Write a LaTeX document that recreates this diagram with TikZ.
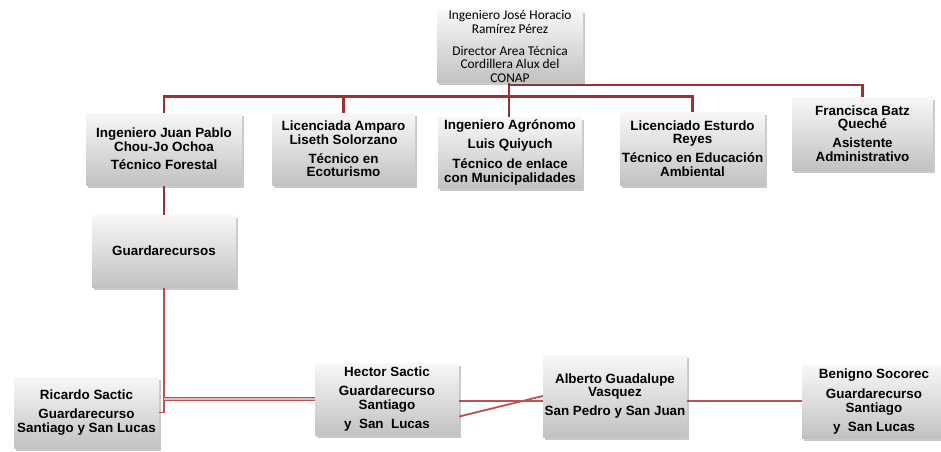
\documentclass[tikz,border=0pt]{standalone}
\usepackage{fontspec}
\setmainfont{Liberation Sans}
\newfontfamily\calibri{Carlito}
\usetikzlibrary{shadows}
\definecolor{darkline}{HTML}{9E2F33}
\definecolor{lightline}{HTML}{C0504D}
\pgfdeclarelayer{bg}
\pgfsetlayers{bg,main}
\begin{document}
\begin{tikzpicture}[x=1pt,y=-1pt,
  box/.style={rectangle, inner sep=0pt, align=center,
    top color=white!97!black, bottom color=black!24,
    drop shadow={shadow xshift=1.5pt, shadow yshift=-2.5pt, opacity=0.3, fill=black!70},
    font=\fontsize{13.4}{13.6}\selectfont\bfseries},
  topbox/.style={box, font=\calibri\fontsize{13.4}{13.6}\selectfont},
  topline/.style={draw=darkline, line width=2.1pt},
  lowline/.style={draw=lightline, line width=1.8pt}]
\useasboundingbox (0,0) rectangle (941,451);

\node[topbox, minimum width=146pt, minimum height=71pt] (top) at (510,46.5)
  {Ingeniero José Horacio\\Ramírez Pérez\\[8.5pt]Director Area Técnica\\Cordillera Alux del\\CONAP};

\node[box, minimum width=156pt, minimum height=72pt] (b1) at (164,149)
  {Ingeniero Juan Pablo\\Chou-Jo Ochoa\\[4.5pt]Técnico Forestal};
\node[box, minimum width=143pt, minimum height=72pt] (b2) at (343.5,149)
  {Licenciada Amparo\\Liseth Solorzano\\[5.5pt]Técnico en\\Ecoturismo};
\node[box, minimum width=144pt, minimum height=71pt] (b3) at (510,152.5)
  {Ingeniero Agrónomo\\[5.5pt]Luis Quiyuch\\[6pt]Técnico de enlace\\con Municipalidades};
\node[box, minimum width=145pt, minimum height=73pt] (b4) at (692.5,148.5)
  {Licenciado Esturdo\\Reyes\\[5.5pt]Técnico en Educación\\Ambiental};
\node[box, minimum width=141pt, minimum height=73pt] (b5) at (862.5,133.5)
  {Francisca Batz\\Queché\\[5pt]Asistente\\Administrativo};

\node[box, minimum width=144pt, minimum height=72pt] (g) at (164,251) {Guardarecursos};

\node[box, minimum width=145pt, minimum height=71pt] (r) at (86.5,412.5)
  {Ricardo Sactic\\[5.5pt]Guardarecurso\\Santiago y San Lucas};
\node[box, minimum width=144pt, minimum height=72pt] (h) at (387,399)
  {Hector Sactic\\[6pt]Guardarecurso\\Santiago\\[5.5pt]y~~San~~Lucas};
\node[box, minimum width=144pt, minimum height=82pt] (a) at (615,396)
  {Alberto Guadalupe\\Vasquez\\[5.5pt]San Pedro y San Juan};
\node[box, minimum width=144pt, minimum height=73pt] (bn) at (874,401.5)
  {Benigno Socorec\\[6pt]Guardarecurso\\Santiago\\[5.5pt]y~~San Lucas};

% junction points
\coordinate (j1) at (509,96.5);
\coordinate (j2) at (509,85);
\coordinate (j3) at (164,412.5);

\begin{pgfonlayer}{bg}
% top connectors
\draw[topline] (top.south -| j1) -- (b3.north -| j1);
\draw[topline] (b1.north) |- (j1) -| (b4.north);
\draw[topline] (b2.north) -- (b2.north |- j1);
\draw[topline] (j2) -| (b5.north);
\draw[topline] (b1.south) -- (g.north);

% lower connectors
\draw[lowline] (g.south) -- (j3) -- (r.east |- j3);
\draw[lowline, line width=1.1pt, double=lightline!40!white, double distance=1.3pt] (j3 |- h.west) -- (h.west);
\draw[lowline] (h.east |- 0,401) -- (a.west |- 0,401);
\draw[lowline] (h.east |- 0,416.5) -- (a.west |- 0,396);
\draw[lowline] (a.east |- 0,401) -- (bn.west |- 0,401);
\end{pgfonlayer}
\end{tikzpicture}
\end{document}
